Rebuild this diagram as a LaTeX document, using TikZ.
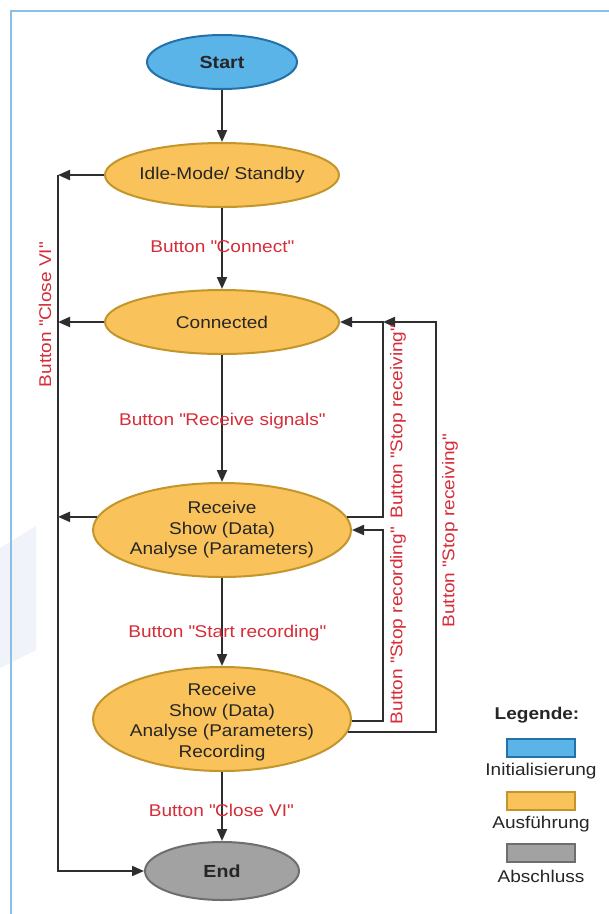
\documentclass[tikz,border=0pt]{standalone}
\usepackage{fontspec}
\setmainfont{Liberation Sans}[FakeStretch=1.12]
\usetikzlibrary{shapes.geometric,arrows.meta}
\newcommand{\qq}{\textquotedbl}
\definecolor{lineC}{HTML}{2E2E2E}
\definecolor{redC}{HTML}{D62D38}
\definecolor{blueF}{HTML}{5BB4E8}
\definecolor{blueD}{HTML}{2471A9}
\definecolor{oranF}{HTML}{F9C25A}
\definecolor{oranD}{HTML}{C3962C}
\definecolor{grayF}{HTML}{A2A2A2}
\definecolor{grayD}{HTML}{6E6E6E}
\definecolor{frameC}{HTML}{8CBFE6}
\definecolor{shadeC}{HTML}{F0F3F9}
\tikzset{
  state/.style={ellipse, draw, line width=2pt, inner sep=0pt},
  initS/.style={state, fill=blueF, draw=blueD},
  runS/.style={state, fill=oranF, draw=oranD},
  endS/.style={state, fill=grayF, draw=grayD},
  txt/.style={align=center, inner sep=0pt, font=\fontsize{17}{20.5}\selectfont, text=black!85},
  btxt/.style={inner sep=0pt, font=\fontsize{17.5}{21}\selectfont\bfseries, text=black!85},
  lbl/.style={inner sep=0pt, font=\fontsize{17}{20.5}\selectfont, text=redC},
  conn/.style={draw=lineC, line width=2pt},
  arr/.style={conn, -{Triangle[length=12pt,width=10pt]}},
  legbox/.style={draw, line width=2pt, minimum width=68pt, minimum height=18pt, inner sep=0pt}
}
\begin{document}
\begin{tikzpicture}[x=1pt,y=-1pt]
\useasboundingbox (0,0) rectangle (609,914);
\fill[white] (0,0) rectangle (609,914);
% faint background
\fill[shadeC] (0,548) -- (36,526) -- (36,650) -- (0,668) -- cycle;
\draw[frameC, line width=1.8pt] (609,11) -- (11,11) -- (11,914);

% states
\node[initS, minimum width=150pt, minimum height=54pt] (start) at (222,62) {};
\node[btxt] (startT) at (start) {Start};
\node[runS, minimum width=234pt, minimum height=64pt] (idle) at (222,175) {};
\node[txt] (idleT) at (idle) {Idle-Mode/ Standby};
\node[runS, minimum width=234pt, minimum height=64pt] (conn) at (222,322) {};
\node[txt] (connT) at (conn) {Connected};
\node[runS, minimum width=258pt, minimum height=94pt] (rec1) at (222,530) {};
\node[txt] (rec1T) at (rec1) {Receive\\Show (Data)\\Analyse (Parameters)};
\node[runS, minimum width=258pt, minimum height=104pt] (rec2) at (222,719) {};
\node[txt] (rec2T) at (222,722) {Receive\\Show (Data)\\Analyse (Parameters)\\Recording};
\node[endS, minimum width=154pt, minimum height=58pt] (end) at (222,871) {};
\node[btxt] (endT) at (end) {End};

% helper coordinates
\coordinate (L) at (58,0);
\coordinate (R1) at (383,0);
\coordinate (R2) at (436,0);

% main flow
\draw[arr] (start.south) -- (idle.north);
\draw[arr] (idle.south) -- (conn.north);
\draw[arr] (conn.south) -- (rec1.north);
\draw[arr] (rec1.south) -- (rec2.north);
\draw[arr] (rec2.south) -- (end.north);

% left "Close VI" bus
\draw[arr] (idle.west) -- (idle.west -| L);
\draw[arr] (conn.west) -- (conn.west -| L);
\draw[arr] (rec1.174) -- (rec1.174 -| L);
\draw[arr] (idle.west -| L) -- (end.west -| L) -- (end.west);

% right loops
\draw[arr] (rec1.6) -- (rec1.6 -| R1) -- (conn.east -| R1) -- (conn.east);
\draw[arr] (rec2.-6) -- (rec2.-6 -| R2) -- (conn.east -| R2) -- (conn.east -| R1);
\draw[arr] (rec2.-1) -- (rec2.-1 -| R1) -- (rec1.east -| R1) -- (rec1.east);

% labels
\node[lbl] (l1) at (222,247) {Button \qq Connect\qq};
\node[lbl] (l2) at (222,421) {Button \qq Receive signals\qq};
\node[lbl] (l3) at (227,633) {Button \qq Start recording\qq};
\node[lbl] (l4) at (221,810) {Button \qq Close VI\qq};
\node[lbl, rotate=90] (l5) at (45,315) {Button \qq Close VI\qq};
\node[lbl, rotate=90] (l6) at (398,422) {Button \qq Stop receiving\qq};
\node[lbl, rotate=90] (l7) at (398,626) {Button \qq Stop recording\qq};
\node[lbl, rotate=90] (l8) at (450,531) {Button \qq Stop receiving\qq};

% legend
\node[btxt, font=\fontsize{17}{20}\selectfont\bfseries] (leg) at (537,715) {Legende:};
\node[legbox, fill=blueF, draw=blueD] (lb1) at (541,748) {};
\node[txt] (lt1) at (541,771) {Initialisierung};
\node[legbox, fill=oranF, draw=oranD] (lb2) at (541,801) {};
\node[txt] (lt2) at (541,824) {Ausführung};
\node[legbox, fill=grayF, draw=grayD] (lb3) at (541,853) {};
\node[txt] (lt3) at (541,876) {Abschluss};
\end{tikzpicture}
\end{document}
